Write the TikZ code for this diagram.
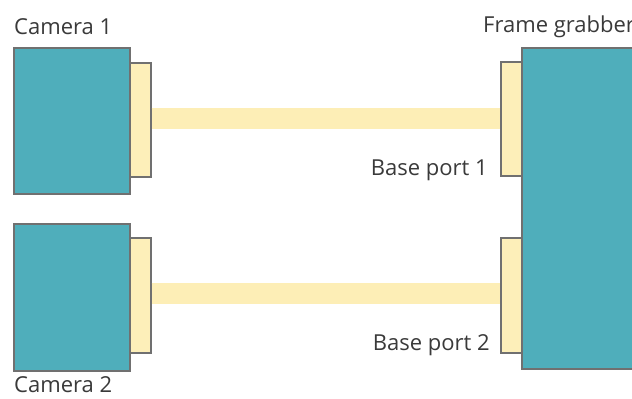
\documentclass[tikz,border=0pt]{standalone}
\usepackage{fontspec}
\setmainfont{Open Sans}
\definecolor{teal}{HTML}{4FAEBB}
\definecolor{port}{HTML}{FDEFB9}
\definecolor{cablecol}{HTML}{FDEEB6}
\definecolor{edge}{HTML}{707070}
\definecolor{txt}{HTML}{3A3A3A}
\begin{document}
\begin{tikzpicture}[x=1pt,y=-1pt,
  box/.style={draw=edge,line width=1.3pt,fill=teal,inner sep=0,minimum width=116pt},
  portbox/.style={draw=edge,line width=1.3pt,fill=port,inner sep=0,minimum width=21pt},
  cable/.style={draw=cablecol,line width=21pt},
  lbl/.style={font=\fontsize{22}{26}\selectfont,text=txt,inner sep=0}]
\useasboundingbox (0,0) rectangle (632,399);
\clip (0,0) rectangle (632,399);
\fill[white] (0,0) rectangle (632,399);
\node[box,minimum height=146pt] (cam1) at (72,121) {};
\node[box,minimum height=147pt] (cam2) at (72,297.5) {};
\node[box,minimum width=178pt,minimum height=321pt] (fg) at (611,208.5) {};
\node[portbox,minimum height=114pt] (cp1) at (140.5,120) {};
\node[portbox,minimum height=115pt] (cp2) at (140.5,295.5) {};
\node[portbox,minimum height=114pt] (fp1) at (511.5,119) {};
\node[portbox,minimum height=115pt] (fp2) at (511.5,295.5) {};
\draw[cable] ([yshift=1.5pt]cp1.east) -- ([yshift=0.5pt]fp1.west);
\draw[cable] ([yshift=2pt]cp2.east) -- ([yshift=2pt]fp2.west);
\node[lbl,anchor=west] (l1) at (14,27) {Camera 1};
\node[lbl,anchor=west] (l2) at (14,385) {Camera 2};
\node[lbl,anchor=west] (l3) at (483,27) {Frame grabber};
\node[lbl,anchor=east] (l4) at (488,170) {Base port 1};
\node[lbl,anchor=east] (l5) at (490,345) {Base port 2};
\end{tikzpicture}
\end{document}
